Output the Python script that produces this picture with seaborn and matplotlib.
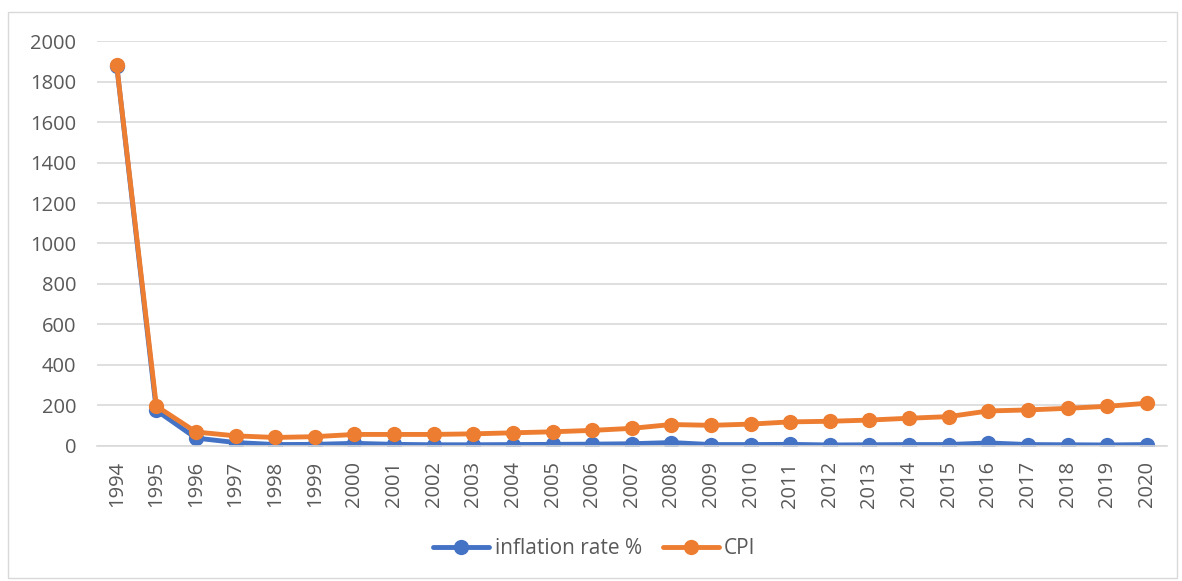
import matplotlib
matplotlib.use("Agg")
import matplotlib.pyplot as plt
import seaborn as sns
import pandas as pd
from matplotlib.patches import Rectangle

sns.set_style("white")
plt.rcParams['font.family'] = ['Open Sans', 'DejaVu Sans']

years = list(range(1994, 2021))
inflation = [1877, 176, 39, 17, 7, 8, 13, 8, 6, 6, 7, 8, 9, 11, 17, 7, 7, 8,
             5, 6, 7, 7, 15, 7, 6, 5, 7]
cpi = [1880, 197, 69, 50, 42, 46, 57, 57, 57, 60, 65, 70, 77, 87, 106, 102,
       108, 119, 122, 128, 137, 145, 173, 178, 186, 196, 211]

df = pd.DataFrame({
    'year': years * 2,
    'value': inflation + cpi,
    'series': ['inflation rate %'] * len(years) + ['CPI'] * len(years),
})

fig = plt.figure(figsize=(11.82, 5.81), dpi=100)
ax = fig.add_axes([0.082, 0.2324, 0.905, 0.697])

sns.lineplot(data=df, x='year', y='value', hue='series',
             palette=['#4472c4', '#ed7d31'], marker='o', markersize=11,
             markeredgewidth=0, linewidth=3.5, ax=ax)

ax.set_xlim(1993.5, 2020.5)
ax.set_ylim(0, 2000)
ax.set_yticks(range(0, 2001, 200))
ax.set_xticks(years)
ax.set_xticklabels([str(y) for y in years], rotation=90)
ax.yaxis.grid(True, color='#d9d9d9', linewidth=1.2)
ax.set_axisbelow(True)
for s in ['top', 'right', 'left']:
    ax.spines[s].set_visible(False)
ax.spines['bottom'].set_color('#d9d9d9')
ax.spines['bottom'].set_linewidth(1.2)
ax.tick_params(axis='y', length=0, labelsize=14.5, colors='#595959', pad=15)
ax.tick_params(axis='x', length=0, labelsize=14.5, colors='#595959', pad=11)
ax.set_xlabel('')
ax.set_ylabel('')

ax.legend(loc='center', bbox_to_anchor=(0.465, -0.254), ncol=2, frameon=False,
          fontsize=15, labelcolor='#595959', handlelength=2.7,
          handletextpad=0.25, columnspacing=1.0, title=None)

fig.patches.append(Rectangle((8 / 1182, 3 / 581), 1169 / 1182, 566 / 581,
                             transform=fig.transFigure, fill=False,
                             edgecolor='#d9d9d9', linewidth=1))

fig.savefig('out.png', dpi=100)
